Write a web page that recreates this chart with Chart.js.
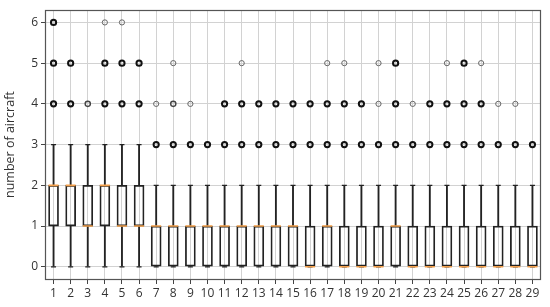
<!DOCTYPE html>
<html>
<head>
<meta charset="utf-8">
<script src="https://cdn.jsdelivr.net/npm/chart.js@4.4.1/dist/chart.umd.min.js"></script>
<style>
html,body{margin:0;padding:0;background:#fff;}
#wrap{width:550px;height:307px;position:relative;}
</style>
</head>
<body>
<div id="wrap"><canvas id="c" width="550" height="307"></canvas></div>
<script>
// ---- data ----
const categories = ['1','2','3','4','5','6','7','8','9','10','11','12','13','14','15','16','17','18','19','20','21','22','23','24','25','26','27','28','29'];
const q1 =        [1,1,1,1,1,1,0,0,0,0,0,0,0,0,0,0,0,0,0,0,0,0,0,0,0,0,0,0,0];
const q3 =        [2,2,2,2,2,2,1,1,1,1,1,1,1,1,1,1,1,1,1,1,1,1,1,1,1,1,1,1,1];
const medians =   [2,2,1,2,1,1,1,1,1,1,1,1,1,1,1,0,1,0,0,0,1,0,0,0,0,0,0,0,0];
const whiskerLow =  [0,0,0,0,0,0,0,0,0,0,0,0,0,0,0,0,0,0,0,0,0,0,0,0,0,0,0,0,0];
const whiskerHigh = [3,3,3,3,3,3,2,2,2,2,2,2,2,2,2,2,2,2,2,2,2,2,2,2,2,2,2,2,2];
// outlier values per category and estimated number of coinciding flights
const outlierValues = [
  [4,5,6],[4,5],[4],[4,5,6],[4,5,6],[4,5],[3,4],[3,4,5],[3,4],[3],
  [3,4],[3,4,5],[3,4],[3,4],[3,4],[3,4],[3,4,5],[3,4,5],[3,4],[3,4,5],
  [3,4,5],[3,4],[3,4],[3,4,5],[3,4,5],[3,4,5],[3,4],[3,4],[3]
];
const outlierCounts = [
  [5,5,3],[5,4],[2],[5,4,1],[5,4,1],[5,3],[8,1],[8,2,1],[8,1],[8],
  [8,3],[8,3,1],[8,3],[8,3],[8,3],[8,3],[8,3,1],[8,3,1],[8,3],[8,1,1],
  [8,3,3],[8,1],[8,3],[8,3,1],[8,3,3],[8,3,1],[8,1],[8,1],[8]
];
const yTicks = [0,1,2,3,4,5,6];

// ---- derived datasets ----
const boxData = categories.map((c,i)=>[q1[i], q3[i]]);
const lowWhisker = categories.map((c,i)=>[whiskerLow[i], q1[i]]);
const highWhisker = categories.map((c,i)=>[q3[i], whiskerHigh[i]]);
const capData = [];
categories.forEach((c,i)=>{ capData.push({x:c,y:whiskerLow[i]}); capData.push({x:c,y:whiskerHigh[i]}); });
const medianData = categories.map((c,i)=>({x:c,y:medians[i]}));
const outlierData = [];
categories.forEach((c,i)=>{ outlierValues[i].forEach((v,j)=>outlierData.push({x:c,y:v,n:outlierCounts[i][j]})); });

const frame = {
  id:'frame',
  afterDraw(chart){
    const a = chart.chartArea, ctx = chart.ctx;
    ctx.save();
    ctx.strokeStyle = '#555';
    ctx.lineWidth = 1.2;
    ctx.strokeRect(Math.round(a.left)+0.5, Math.round(a.top)+0.5, Math.round(a.right-a.left)-1, Math.round(a.bottom-a.top));
    ctx.restore();
  }
};

const FONT = "'Open Sans', 'Noto Sans', sans-serif";
new Chart(document.getElementById('c'), {
  type: 'bar',
  data: {
    labels: categories,
    datasets: [
      { type:'line', data: medianData, showLine:false, pointStyle:'line', pointRadius:5, pointHoverRadius:5,
        pointBorderColor:'#f5a04a', pointBorderWidth:1.6, order:0 },
      { type:'line', data: outlierData, showLine:false, pointStyle:'circle', pointRadius:2.6, pointHoverRadius:2.6,
        pointBackgroundColor:'rgba(255,255,255,0)',
        pointBorderColor: ctx => (ctx.raw && ctx.raw.n >= 3) ? '#111' : (ctx.raw && ctx.raw.n === 2 ? '#444' : '#666'),
        pointBorderWidth: ctx => (ctx.raw && ctx.raw.n >= 3) ? 2 : (ctx.raw && ctx.raw.n === 2 ? 1.4 : 1),
        order:0 },
      { type:'line', data: capData, showLine:false, pointStyle:'line', pointRadius:2.5, pointHoverRadius:2.5,
        pointBorderColor:'#222', pointBorderWidth:1.2, order:1 },
      { type:'bar', data: boxData, backgroundColor:'rgba(0,0,0,0)', borderColor:'#222', borderWidth:1.1,
        borderSkipped:false, barThickness:10, grouped:false, order:2 },
      { type:'bar', data: lowWhisker, backgroundColor:'#222', borderWidth:0, barThickness:1.2, grouped:false, order:3 },
      { type:'bar', data: highWhisker, backgroundColor:'#222', borderWidth:0, barThickness:1.2, grouped:false, order:3 }
    ]
  },
  options: {
    responsive:false,
    animation:false,
    events:[],
    layout:{ padding:{ top:10, right:9, left:0, bottom:0 } },
    plugins:{ legend:{display:false}, tooltip:{enabled:false} },
    scales:{
      x:{
        type:'category', offset:true,
        grid:{ offset:false, color:'#d2d2d2', lineWidth:1, tickColor:'#444', tickLength:5, drawOnChartArea:true },
        border:{ display:false },
        ticks:{ color:'#333', font:{ family:FONT, size:12 }, maxRotation:0, autoSkip:false, padding:2 },
        afterFit(s){ s.height = 28; }
      },
      y:{
        min:-0.3, max:6.3,
        afterBuildTicks(axis){ axis.ticks = yTicks.map(v=>({value:v})); },
        grid:{ color:'#d2d2d2', lineWidth:1, tickColor:'#444', tickLength:4 },
        border:{ display:false },
        ticks:{ color:'#333', font:{ family:FONT, size:12 }, padding:3 },
        title:{ display:true, text:'number of aircraft', color:'#333', font:{ family:FONT, size:12.5 }, padding:{top:3,bottom:0} },
        afterFit(s){ s.width = 45; }
      }
    }
  },
  plugins:[frame]
});
</script>
</body>
</html>
